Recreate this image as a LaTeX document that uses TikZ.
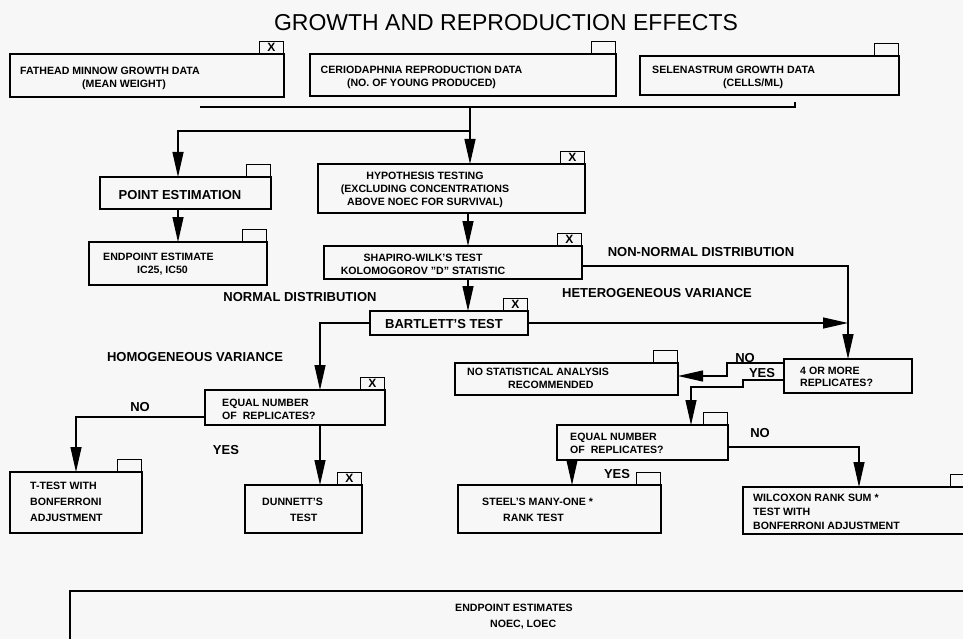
\documentclass[tikz,border=0pt]{standalone}
\usepackage{fontspec}
\setmainfont{Liberation Sans}
\usetikzlibrary{arrows.meta}
\definecolor{paper}{RGB}{247,247,247}

\begin{document}
\begin{tikzpicture}[
    x=1pt, y=-1pt,
    box/.style={rectangle, draw, line width=1.2pt, inner sep=0pt, outer sep=0pt},
    tabbox/.style={rectangle, draw, line width=1.2pt, minimum width=24pt, minimum height=12pt, inner sep=0pt, font=\fontsize{12}{12}\selectfont\bfseries},
    small/.style={inner sep=0pt, align=left, font=\fontsize{10.6}{13}\selectfont\bfseries},
    big/.style={inner sep=0pt, font=\fontsize{13}{15}\selectfont\bfseries},
    arrow/.style={-{Triangle[length=25pt,width=11pt]}, line width=1.2pt},
    line/.style={line width=1.2pt}
]

% Paper
\fill[paper] (0,0) rectangle (963,639);
\clip (0,0) rectangle (963,639);

% Title
\node[font=\fontsize{23}{23}\selectfont, inner sep=0pt] (title) at (506,23) {GROWTH AND REPRODUCTION EFFECTS};

% Boxes (name / centre x / centre y / width / height)
\foreach \n/\cx/\cy/\w/\h in {
    fathead/147/75.5/274/43, cerio/463/75/306/42, selen/769.5/75.5/259/39,
    pointest/185.5/193/171/32, endpt/178/263.5/178/43,
    hypo/451.5/188.5/267/49, shapiro/453/262.5/258/33, bartlett/449/323/158/24,
    eqleft/295/407.5/180/35, ttest/76/502.5/132/61, dunnett/303.5/509/117/48,
    nostat/566.5/379/223/32, fourmore/848/376/128/34, eqright/642.5/442.5/171/35,
    steel/559.5/509/203/48, wilcox/859/510.5/232/47, noec/530/645.5/920/109} {
    \node[box, minimum width=\w pt, minimum height=\h pt] (\n) at (\cx,\cy) {};
}

% Tabs
\foreach \n in {fathead, hypo, shapiro, bartlett, eqleft, dunnett} {
    \node[tabbox, anchor=south east] (\n-tab) at (\n.north east) {X};
}
\foreach \n in {cerio, selen, pointest, endpt, ttest, nostat, eqright, steel, wilcox} {
    \node[tabbox, anchor=south east] (\n-tab) at (\n.north east) {};
}

% Box texts
\node[small, anchor=west] (fathead-t) at (20,78.5) {FATHEAD MINNOW GROWTH DATA\\\hspace*{62pt}(MEAN WEIGHT)};
\node[small, align=center] (cerio-t) at (421.5,77) {CERIODAPHNIA REPRODUCTION DATA\\(NO. OF YOUNG PRODUCED)};
\node[small, anchor=west] (selen-t) at (652,77.5) {SELENASTRUM GROWTH DATA\\\hspace*{71pt}(CELLS/ML)};
\node[big] (pointest-t) at (180,195) {POINT ESTIMATION};
\node[small, anchor=west] (endpt-t) at (103,264) {ENDPOINT ESTIMATE\\\hspace*{34pt}IC25, IC50};
\node[small, align=center] (hypo-t) at (425,190) {HYPOTHESIS TESTING\\(EXCLUDING CONCENTRATIONS\\ABOVE NOEC FOR SURVIVAL)};
\node[small, align=center] (shapiro-t) at (423,264.5) {SHAPIRO-WILK'S TEST\\KOLOMOGOROV "D" STATISTIC};
\node[big] (bartlett-t) at (444,324) {BARTLETT'S TEST};
\node[small, anchor=west] (eqleft-t) at (222,409.5) {EQUAL NUMBER\\OF\ \ REPLICATES?};
\node[small, anchor=west, font=\fontsize{10.6}{16}\selectfont\bfseries] (ttest-t) at (30,502) {T-TEST WITH\\BONFERRONI\\ADJUSTMENT};
\node[small, anchor=west, font=\fontsize{10.6}{16}\selectfont\bfseries] (dunnett-t) at (262,509.5) {DUNNETT'S\\\hspace*{28pt}TEST};
\node[small, anchor=west] (nostat-t) at (467,378.5) {NO STATISTICAL ANALYSIS\\\hspace*{41pt}RECOMMENDED};
\node[small, anchor=west, font=\fontsize{10.6}{12}\selectfont\bfseries] (fourmore-t) at (800,377) {4 OR MORE\\REPLICATES?};
\node[small, anchor=west] (eqright-t) at (570,443.5) {EQUAL NUMBER\\OF\ \ REPLICATES?};
\node[small, anchor=west, font=\fontsize{10.6}{16}\selectfont\bfseries] (steel-t) at (482,510) {STEEL'S MANY-ONE *\\\hspace*{21pt}RANK TEST};
\node[small, anchor=west, font=\fontsize{10.6}{14}\selectfont\bfseries] (wilcox-t) at (753,511.5) {WILCOXON RANK SUM *\\TEST WITH\\BONFERRONI ADJUSTMENT};
\node[small, anchor=west, font=\fontsize{10.6}{16}\selectfont\bfseries] (noec-t) at (455,617) {ENDPOINT ESTIMATES\\\hspace*{35pt}NOEC, LOEC};

% Data bus and split
\coordinate (busL) at (200,107);
\coordinate (busR) at (795,107);
\coordinate (split) at (470,131);
\draw[line] (busL) -- (busR) -- ++(0,-5);
\draw[arrow] (busL -| split) -- (hypo.north -| split);
\draw[arrow] (split) -| (endpt.north |- pointest.north);
\draw[arrow] (endpt.north |- pointest.south) -- (endpt.north);

% Hypothesis testing chain
\coordinate (spine) at (468,0);
\draw[arrow] (hypo.south -| spine) -- (shapiro.north -| spine);
\draw[arrow] (shapiro.south -| spine) -- (bartlett.north -| spine);
\draw[arrow] (shapiro.east |- 0,266) -| (fourmore.north);
\draw[arrow] (bartlett.east) -- (bartlett.east -| fourmore.north);

% Parametric branch
\coordinate (homo) at (320,0);
\draw[arrow] (bartlett.west) -| (eqleft.north -| homo);
\draw[arrow] (eqleft.west |- 0,417) -| (ttest.north);
\draw[arrow] (eqleft.south -| homo) -- (dunnett.north -| homo);

% Non-parametric branch
\draw[arrow] (fourmore.west |- 0,363) -- (727,363) -- (727,376) -- (nostat.east |- 0,376);
\draw[arrow] (fourmore.west |- 0,380) -- (743,380) -- (743,387) -- (691,387) -- (eqright.north -| 691,0);
\draw[arrow] (eqright.east |- 0,447) -| (wilcox.north);
\draw[arrow] (eqright.south -| 572,0) -- (steel.north -| 572,0);

% Branch labels
\node[big] (nonnormal) at (701,252) {NON-NORMAL DISTRIBUTION};
\node[big] (normal) at (300,297) {NORMAL DISTRIBUTION};
\node[big] (hetero) at (657,293) {HETEROGENEOUS VARIANCE};
\node[big] (homog) at (195,357) {HOMOGENEOUS VARIANCE};
\node[big] (noL) at (140,407) {NO};
\node[big] (yesL) at (226,450) {YES};
\node[big] (noR) at (745,358) {NO};
\node[big] (yesR) at (762,373) {YES};
\node[big] (noW) at (760,433) {NO};
\node[big] (yesS) at (617,474) {YES};

\end{tikzpicture}
\end{document}
